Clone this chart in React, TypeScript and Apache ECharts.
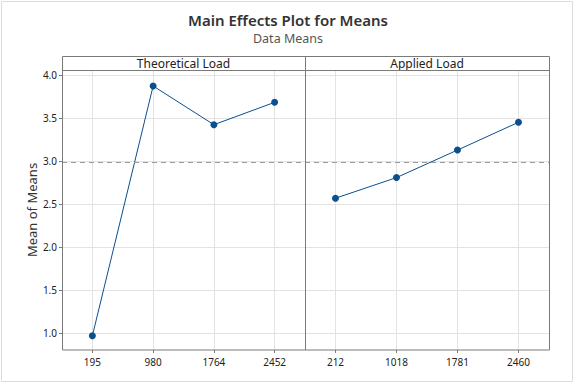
import React, { useEffect, useRef } from "react";
import * as echarts from "echarts";

const theoreticalLoad = ["195", "980", "1764", "2452"];
const theoreticalMeans = [0.965, 3.87, 3.42, 3.68];
const appliedLoad = ["212", "1018", "1781", "2460"];
const appliedMeans = [2.565, 2.805, 3.125, 3.448];
const yTicks = [1.0, 1.5, 2.0, 2.5, 3.0, 3.5, 4.0];
const grandMean = 2.985;

const FONT = "'Noto Sans', 'Open Sans', sans-serif";
const LINE = "#0b4f8e";
const FRAME = "#7a7a7a";

export default function App() {
  const ref = useRef<HTMLDivElement>(null);
  useEffect(() => {
    document.body.style.margin = "0";
    const chart = echarts.init(ref.current!, null, { renderer: "svg" });
    const idx = [0, 1, 2, 3];
    const mkX = (gi: number, cats: string[]) => ({
      type: "value",
      gridIndex: gi,
      min: -0.5,
      max: 3.5,
      axisLine: { show: false, onZero: false },
      axisTick: { show: true, customValues: idx, length: 3, lineStyle: { color: FRAME } },
      axisLabel: {
        customValues: idx,
        formatter: (v: number) => cats[Math.round(v)] ?? "",
        fontSize: 10,
        color: "#222",
        fontFamily: FONT,
        margin: 7,
      },
      splitLine: { show: true, lineStyle: { color: "#e3e3e3", width: 1 } },
    });
    const mkY = (gi: number, showLabels: boolean) => ({
      type: "value",
      gridIndex: gi,
      min: 0.8,
      max: 4.056,
      axisLine: { show: false, onZero: false },
      axisTick: { show: showLabels, customValues: yTicks, length: 3, lineStyle: { color: FRAME } },
      axisLabel: {
        show: showLabels,
        customValues: yTicks,
        formatter: (v: number) => v.toFixed(1),
        fontSize: 10,
        color: "#222",
        fontFamily: FONT,
        margin: 5,
      },
      splitLine: { show: true, lineStyle: { color: "#e3e3e3", width: 1 } },
    });
    const mkSeries = (gi: number, vals: number[]) => ({
      type: "line",
      xAxisIndex: gi,
      yAxisIndex: gi,
      data: vals.map((v, i) => [i, v]),
      symbol: "circle",
      symbolSize: 7,
      itemStyle: { color: LINE },
      lineStyle: { color: LINE, width: 1 },
      markLine: {
        silent: true,
        symbol: "none",
        label: { show: false },
        lineStyle: { color: "#9a9a9a", type: [5, 4], width: 1 },
        data: [{ yAxis: grandMean }],
      },
    });
    chart.setOption({
      animation: false,
      backgroundColor: "#fff",
      grid: [
        { left: 62, top: 70, width: 243, height: 280 },
        { left: 305, top: 70, width: 244, height: 280 },
      ],
      xAxis: [mkX(0, theoreticalLoad), mkX(1, appliedLoad)],
      yAxis: [mkY(0, true), mkY(1, false)],
      series: [mkSeries(0, theoreticalMeans), mkSeries(1, appliedMeans)],
      graphic: [
        { type: "rect", shape: { x: 1.5, y: 1.5, width: 571, height: 380 }, style: { fill: "none", stroke: "#dcdcdc", lineWidth: 1 }, silent: true },
        { type: "rect", shape: { x: 62.5, y: 56.5, width: 487, height: 293.5 }, style: { fill: "none", stroke: FRAME, lineWidth: 1 }, silent: true, z: 10 },
        { type: "line", shape: { x1: 62.5, y1: 70.5, x2: 549.5, y2: 70.5 }, style: { stroke: FRAME, lineWidth: 1 }, silent: true, z: 10 },
        { type: "line", shape: { x1: 305.5, y1: 56.5, x2: 305.5, y2: 350 }, style: { stroke: FRAME, lineWidth: 1 }, silent: true, z: 10 },
        { type: "text", x: 183.5, y: 63.5, style: { text: "Theoretical Load", fontSize: 12, fontFamily: FONT, fill: "#222", align: "center", verticalAlign: "middle" } },
        { type: "text", x: 427, y: 63.5, style: { text: "Applied Load", fontSize: 12, fontFamily: FONT, fill: "#222", align: "center", verticalAlign: "middle" } },
        { type: "text", x: 288, y: 20, style: { text: "Main Effects Plot for Means", fontSize: 15, fontWeight: 600, fontFamily: FONT, fill: "#333", align: "center", verticalAlign: "middle" } },
        { type: "text", x: 288, y: 38, style: { text: "Data Means", fontSize: 12.5, fontFamily: FONT, fill: "#555", align: "center", verticalAlign: "middle" } },
        { type: "text", x: 32, y: 210, rotation: Math.PI / 2, style: { text: "Mean of Means", fontSize: 13, fontFamily: FONT, fill: "#333", align: "center", verticalAlign: "middle" } },
      ],
    });
    return () => chart.dispose();
  }, []);
  return <div ref={ref} style={{ width: 576, height: 384 }} />;
}
